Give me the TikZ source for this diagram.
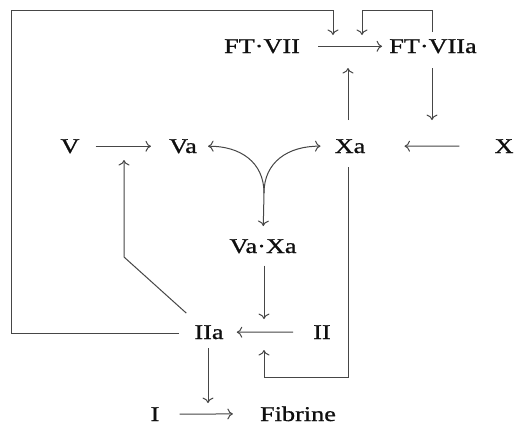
\documentclass[tikz,border=0pt]{standalone}
\usepackage{fontspec}
\setmainfont{Liberation Serif}
\newfontfamily\labfont{Liberation Serif}[FakeStretch=1.25,FakeBold=0.9]
\usetikzlibrary{arrows.meta,calc}
\definecolor{linec}{RGB}{70,70,70}
\definecolor{textc}{RGB}{15,15,15}
\begin{document}
\begin{tikzpicture}[x=1pt,y=-1pt,
  lab/.style={inner sep=0pt, anchor=base, font=\fontsize{21}{21}\labfont, text=textc},
  con/.style={line width=1pt, draw=linec},
  arr/.style={con, -{To[length=5.5pt,width=11pt]}}]
\useasboundingbox[fill=white] (0,0) rectangle (514,426);
% nodes
\node[lab] (FTVII)  at (262,53)  {FT·VII};
\node[lab] (FTVIIa) at (433,53)  {FT·VIIa};
\node[lab] (V)      at (70,153)  {V};
\node[lab] (Va)     at (183,153) {Va};
\node[lab] (Xa)     at (350,153) {Xa};
\node[lab] (X)      at (504,153) {X};
\node[lab] (VaXa)   at (263,253) {Va·Xa};
\node[lab] (IIa)    at (209,339) {IIa};
\node[lab] (II)     at (322,339) {II};
\node[lab] (I)      at (155,421) {I};
\node[lab] (Fib)    at (298,421) {Fibrine};
% helper coordinates
\coordinate (J)  at (264,193);
\coordinate (c1) at (11,10);
\coordinate (t1) at (333,35);
\coordinate (c2) at (362,10);
\coordinate (t2) at (362,35);
\coordinate (xb) at (348,377);
\coordinate (ib) at (264,350);
\coordinate (d1) at (124,257);
\coordinate (d2) at (124,160);
% straight connectors
\draw[arr, shorten <=18pt, shorten >=7pt] (FTVII) -- (FTVIIa);
\draw[arr, shorten <=19pt, shorten >=15pt] ([xshift=-2pt]Xa.north) -- ([xshift=-2pt]Xa.north |- FTVII.base);
\draw[arr, shorten <=15pt, shorten >=19pt] ([xshift=-1pt]FTVIIa.base) -- ([xshift=-1pt]FTVIIa.base |- Xa.north);
\draw[arr, shorten <=16pt, shorten >=18pt] (V) -- (Va);
\draw[arr, shorten <=35pt, shorten >=39pt] (X) -- (Xa);
\draw[arr, shorten <=12pt, shorten >=6pt] ([xshift=1pt]VaXa.south) -- ([xshift=1pt]VaXa.south |- IIa.north);
\draw[arr, shorten <=20pt, shorten >=13pt] (II) -- (IIa);
\draw[arr, shorten <=9pt, shorten >=4pt] ([xshift=-1pt]IIa.south) -- ([xshift=-1pt]IIa.south |- I.north);
\draw[arr, shorten <=20pt, shorten >=27pt] (I) -- (Fib);
% curved connectors
\draw[arr, shorten >=11pt] (J) .. controls (264,162) and (240,146) .. (Va.east);
\draw[arr, shorten >=14pt] (J) .. controls (264,162) and (288,146) .. (Xa.west);
\draw[arr, shorten >=13pt] (J) -- (VaXa.north);
% feedback loops
\draw[arr] (Xa.south) ++(-2,14) -- (xb) -| (ib);
\draw[arr] (IIa.west) ++(-15,1) -| (c1) -| (t1);
\draw[arr] (FTVIIa.north) ++(-1,-7) |- (c2) -- (t2);
\draw[arr] (IIa.north west) ++(-8,-12) -- (d1) -- (d2);
\end{tikzpicture}
\end{document}
